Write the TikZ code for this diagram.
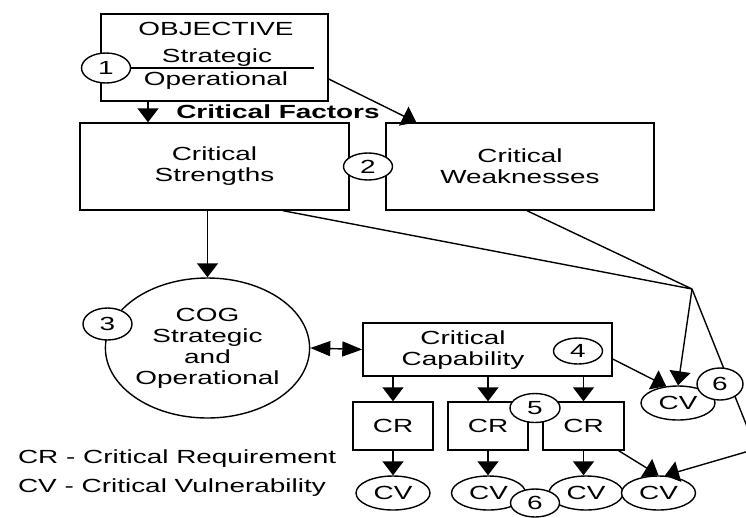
\documentclass[tikz,border=0pt]{standalone}
\usepackage{fontspec}
\setmainfont[FakeStretch=1.47]{Liberation Sans}
\usetikzlibrary{shapes.geometric,arrows.meta}
\begin{document}
\begin{tikzpicture}[x=1pt,y=-1pt,line width=1.4pt,
    box/.style={draw,rectangle,inner sep=0pt,align=center},
    oval/.style={draw,ellipse,inner sep=0pt,fill=white,align=center},
    num/.style={oval,minimum width=49pt,minimum height=28pt},
    cv/.style={oval,minimum width=74pt,minimum height=34pt},
    arr/.style={-{Triangle[length=14pt,width=21pt]}},
    harr/.style={{Triangle[length=20pt,width=15pt]}-{Triangle[length=20pt,width=15pt]}}]
    \tikzstyle{every node}+=[font=\fontsize{19}{21}\selectfont]
    \useasboundingbox (0,0) rectangle (746,517);
    \clip (0,0) rectangle (746,517);
    \node [box,minimum width=227pt,minimum height=87pt] (obj) at (214.5,57.5) {};
    \node [anchor=base] (objt) at (216,35) {OBJECTIVE};
    \node [anchor=base] (strat) at (217,62) {Strategic};
    \node [anchor=base] (oper) at (216,85) {Operational};
    \node [num,minimum height=30pt] (n1) at (106,68) {1};
    \coordinate (sep) at (314,68);
    \draw (n1.east) -- (sep);
    \node [anchor=base,font=\fontsize{19}{21}\selectfont\bfseries] (cf) at (278,118.5) {Critical Factors};
    \node [box,minimum width=269pt,minimum height=87pt] (cs) at (214.5,166.5) {Critical\\Strengths};
    \node [box,minimum width=268pt,minimum height=87pt] (cw) at (520,166.5) {Critical\\Weaknesses};
    \node [draw,ellipse,inner sep=0pt,align=center,minimum width=189pt,minimum height=140pt] (cog) at (207.5,348) {COG\\Strategic\\and\\Operational};
    \node [box,minimum width=249pt,minimum height=53pt] (cc) at (487.5,349.5) {};
    \node [align=center] (cctxt) at (463,350) {Critical\\Capability};
    \node [cv] (cvr) at (678,403) {CV};
    \node [box,minimum width=80pt,minimum height=48pt] (cr1) at (393,426) {CR};
    \node [box,minimum width=80pt,minimum height=48pt] (cr2) at (488,426) {CR};
    \node [box,minimum width=81pt,minimum height=48pt] (cr3) at (583.5,426) {CR};
    \node [cv] (cv1) at (393,493) {CV};
    \node [cv] (cv2) at (488.5,493) {CV};
    \node [cv] (cv3) at (586,493) {CV};
    \node [cv] (cv4) at (658.5,493) {CV};
    \node [anchor=base west] (lcr) at (14,463.5) {CR - Critical Requirement};
    \node [anchor=base west] (lcv) at (14,492.5) {CV - Critical Vulnerability};
    \coordinate (j) at (692,289);
    \coordinate (k) at (756,449);
    \draw [arr] ([xshift=-66.5pt]obj.south) -- ([xshift=-66.5pt]obj.south |- cs.north);
    \draw [arr] ([yshift=-21.5pt]obj.east) -- ([xshift=31pt]cw.north west);
    \draw [arr] (cog.north |- cs.south) -- (cog.north);
    \draw ([xshift=68.5pt]cs.south) -- (j);
    \draw ([xshift=7pt]cw.south) -- (j);
    \draw [arr] (j) -- (cvr.north);
    \draw [arr] (j) -- (k) -- (cv4.70);
    \draw [harr] (cog.east) -- (cc.west);
    \draw [arr] ([yshift=-9.5pt]cc.east) -- (cvr.125);
    \foreach \c in {cr1,cr2,cr3}
        \draw [arr] (\c.north |- cc.south) -- (\c.north);
    \foreach \a/\b in {cr1/cv1,cr2/cv2,cr3/cv3}
        \draw [arr] (\a.south) -- (\a.south |- \b.north);
    \draw [arr] ([xshift=-6pt]cr3.south east) -- (cv4.north);
    \node [num,minimum height=27pt] (n2) at (368,166.5) {2};
    \node [num,minimum height=32pt] (n3) at (107.5,324) {3};
    \node [num,minimum height=26pt] (n4) at (578,351) {4};
    \node [num,minimum width=50pt,minimum height=29pt] (n5) at (535,408) {5};
    \node [num,minimum height=28pt] (n6) at (535,503) {6};
    \node [num,minimum width=46pt,minimum height=32pt] (n6r) at (720,384) {6};
\end{tikzpicture}
\end{document}
